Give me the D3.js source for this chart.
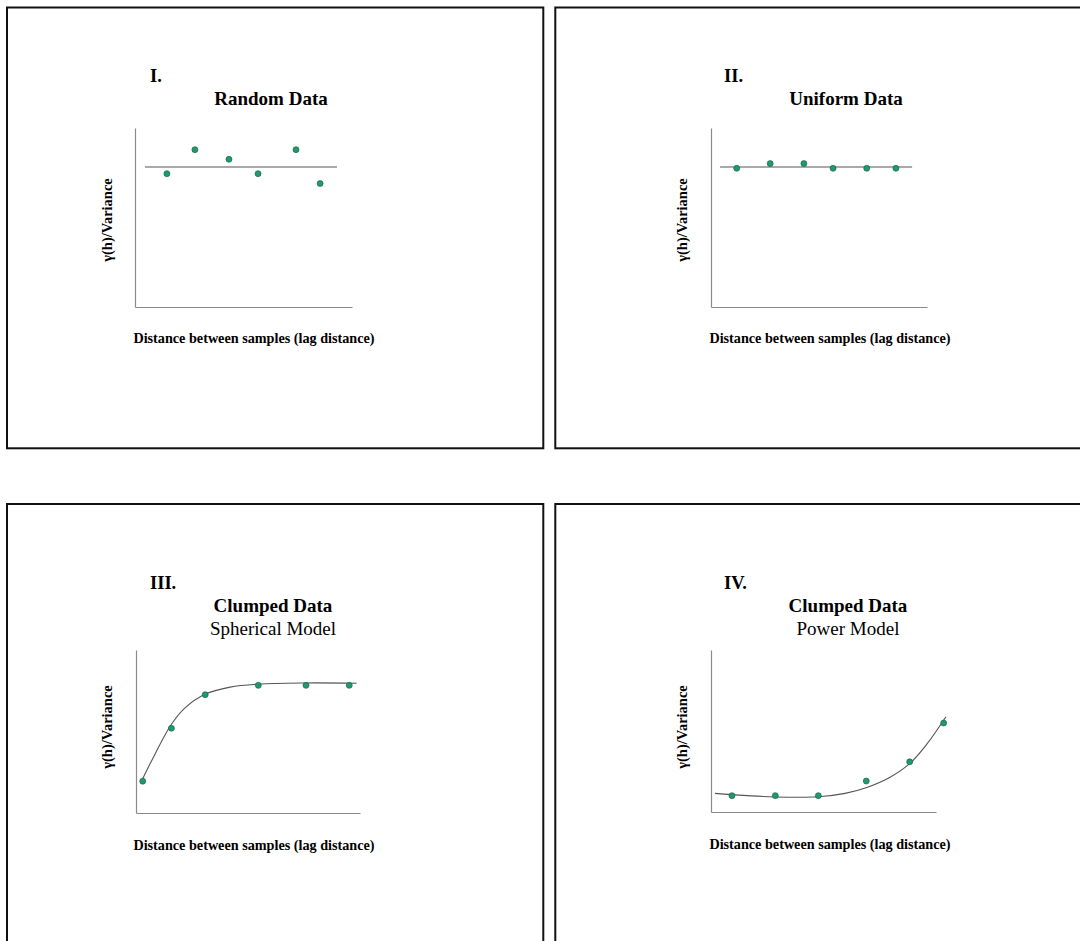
<!DOCTYPE html>
<html>
<head>
<meta charset="utf-8">
<script src="https://cdn.jsdelivr.net/npm/d3@7"></script>
<style>
  html, body { margin: 0; padding: 0; background: #fff; }
  svg { display: block; }
  text { font-family: "Liberation Serif", "Times New Roman", serif; fill: #000; }
</style>
</head>
<body>
<svg id="chart" width="1080" height="941"></svg>
<script>
// ---------- DATA ----------
const panelLabels = ["I.", "II.", "III.", "IV."];
const panelTitles = ["Random Data", "Uniform Data", "Clumped Data", "Clumped Data"];
const panelSubtitles = ["", "", "Spherical Model", "Power Model"];
const xAxisLabel = "Distance between samples (lag distance)";
const yAxisLabel = "γ(h)/Variance";

// Panel I – Random data (lag, γ(h)/variance)
const randomLag = [1.47, 2.76, 4.33, 5.67, 7.42, 8.53];
const randomGamma = [0.745, 0.879, 0.825, 0.745, 0.879, 0.690];
const randomLineLag = [0.46, 9.31];
const randomLineGamma = [0.782, 0.782];

// Panel II – Uniform data
const uniformLag = [1.19, 2.74, 4.30, 5.65, 7.21, 8.56];
const uniformGamma = [0.775, 0.801, 0.801, 0.775, 0.775, 0.775];
const uniformLineLag = [0.42, 9.31];
const uniformLineGamma = [0.782, 0.782];

// Panel III – Clumped data, spherical model
const sphericalLag = [0.30, 1.58, 3.09, 5.46, 7.59, 9.52];
const sphericalGamma = [0.195, 0.520, 0.726, 0.783, 0.783, 0.783];
const sphericalCurveLag = [0.27, 0.75, 1.56, 2.19, 3.08, 4.20, 5.45, 7.59, 9.85];
const sphericalCurveGamma = [0.202, 0.335, 0.540, 0.645, 0.728, 0.772, 0.791, 0.798, 0.796];

// Panel IV – Clumped data, power model
const powerLag = [0.93, 2.86, 4.77, 6.90, 8.83, 10.34];
const powerGamma = [0.101, 0.101, 0.101, 0.191, 0.310, 0.549];
const powerCurveLag = [0.18, 0.93, 2.84, 4.76, 5.96, 6.89, 7.96, 8.84, 9.60, 10.44];
const powerCurveGamma = [0.115, 0.107, 0.093, 0.094, 0.115, 0.150, 0.215, 0.300, 0.420, 0.588];

// ---------- LAYOUT ----------
const svg = d3.select("#chart");

// panel frames
const frames = [
  {x: 7, y: 7.5, w: 536.3, h: 440.8},
  {x: 555.3, y: 7.5, w: 540, h: 440.8},
  {x: 7, y: 504, w: 536.3, h: 450},
  {x: 555.3, y: 504, w: 540, h: 450}
];
frames.forEach(f => {
  svg.append("rect")
    .attr("x", f.x).attr("y", f.y).attr("width", f.w).attr("height", f.h)
    .attr("fill", "none").attr("stroke", "#111").attr("stroke-width", 2);
});

const smooth = d3.curveCatmullRom.alpha(0.5);
const panels = [
  { ax0: 135, ax1: 352, ay0: 307, ay1: 128,
    numX: 150, numY: 82, titleX: 271, titleY: 105, subY: null,
    xlabX: 254, xlabY: 343, ylabX: 107, ylabY: 220,
    pts: [randomLag, randomGamma], line: [randomLineLag, randomLineGamma], curve: d3.curveLinear },
  { ax0: 711, ax1: 927, ay0: 307, ay1: 128,
    numX: 724, numY: 82, titleX: 846, titleY: 105, subY: null,
    xlabX: 830, xlabY: 343, ylabX: 682, ylabY: 220,
    pts: [uniformLag, uniformGamma], line: [uniformLineLag, uniformLineGamma], curve: d3.curveLinear },
  { ax0: 136, ax1: 360, ay0: 813, ay1: 650,
    numX: 150, numY: 589, titleX: 273, titleY: 612, subY: 635,
    xlabX: 254, xlabY: 850, ylabX: 107, ylabY: 727,
    pts: [sphericalLag, sphericalGamma], line: [sphericalCurveLag, sphericalCurveGamma], curve: smooth },
  { ax0: 711, ax1: 936, ay0: 812, ay1: 650,
    numX: 724, numY: 589, titleX: 848, titleY: 612, subY: 635,
    xlabX: 830, xlabY: 849, ylabX: 682, ylabY: 727,
    pts: [powerLag, powerGamma], line: [powerCurveLag, powerCurveGamma], curve: smooth }
];

panels.forEach((p, i) => {
  const g = svg.append("g");
  const x = d3.scaleLinear().domain([0, 10]).range([p.ax0, p.ax1]);
  const y = d3.scaleLinear().domain([0, 1]).range([p.ay0, p.ay1]);

  // axes (no ticks)
  const xAxis = d3.axisBottom(x).ticks(0).tickSizeOuter(0).tickFormat("");
  const yAxis = d3.axisLeft(y).ticks(0).tickSizeOuter(0).tickFormat("");
  g.append("g").attr("transform", `translate(0,${p.ay0})`).call(xAxis)
    .select(".domain").attr("stroke", "#8a8a8a").attr("stroke-width", 1.2);
  g.append("g").attr("transform", `translate(${p.ax0},0)`).call(yAxis)
    .select(".domain").attr("stroke", "#8a8a8a").attr("stroke-width", 1.2);

  // model line
  const lineData = p.line[0].map((v, k) => [v, p.line[1][k]]);
  g.append("path")
    .datum(lineData)
    .attr("d", d3.line().x(d => x(d[0])).y(d => y(d[1])).curve(p.curve))
    .attr("fill", "none").attr("stroke", "#555").attr("stroke-width", 1.1);

  // points
  const ptData = p.pts[0].map((v, k) => [v, p.pts[1][k]]);
  g.selectAll("circle").data(ptData).join("circle")
    .attr("cx", d => x(d[0])).attr("cy", d => y(d[1])).attr("r", 3)
    .attr("fill", "#1f9a6c").attr("stroke", "#145a40").attr("stroke-width", 0.6);

  // texts
  g.append("text").attr("x", p.numX).attr("y", p.numY)
    .attr("font-size", 18.5).attr("font-weight", "bold").text(panelLabels[i]);
  g.append("text").attr("x", p.titleX).attr("y", p.titleY).attr("text-anchor", "middle")
    .attr("font-size", 19).attr("font-weight", "bold").text(panelTitles[i]);
  if (panelSubtitles[i]) {
    g.append("text").attr("x", p.titleX).attr("y", p.subY).attr("text-anchor", "middle")
      .attr("font-size", 19).text(panelSubtitles[i]);
  }
  g.append("text").attr("x", p.xlabX).attr("y", p.xlabY).attr("text-anchor", "middle")
    .attr("font-size", 14.2).attr("font-weight", "bold").text(xAxisLabel);
  g.append("text")
    .attr("transform", `translate(${p.ylabX},${p.ylabY}) rotate(-90)`)
    .attr("text-anchor", "middle").attr("dy", "0.35em")
    .attr("font-size", 14.5).attr("font-weight", "bold").text(yAxisLabel);
});
</script>
</body>
</html>
